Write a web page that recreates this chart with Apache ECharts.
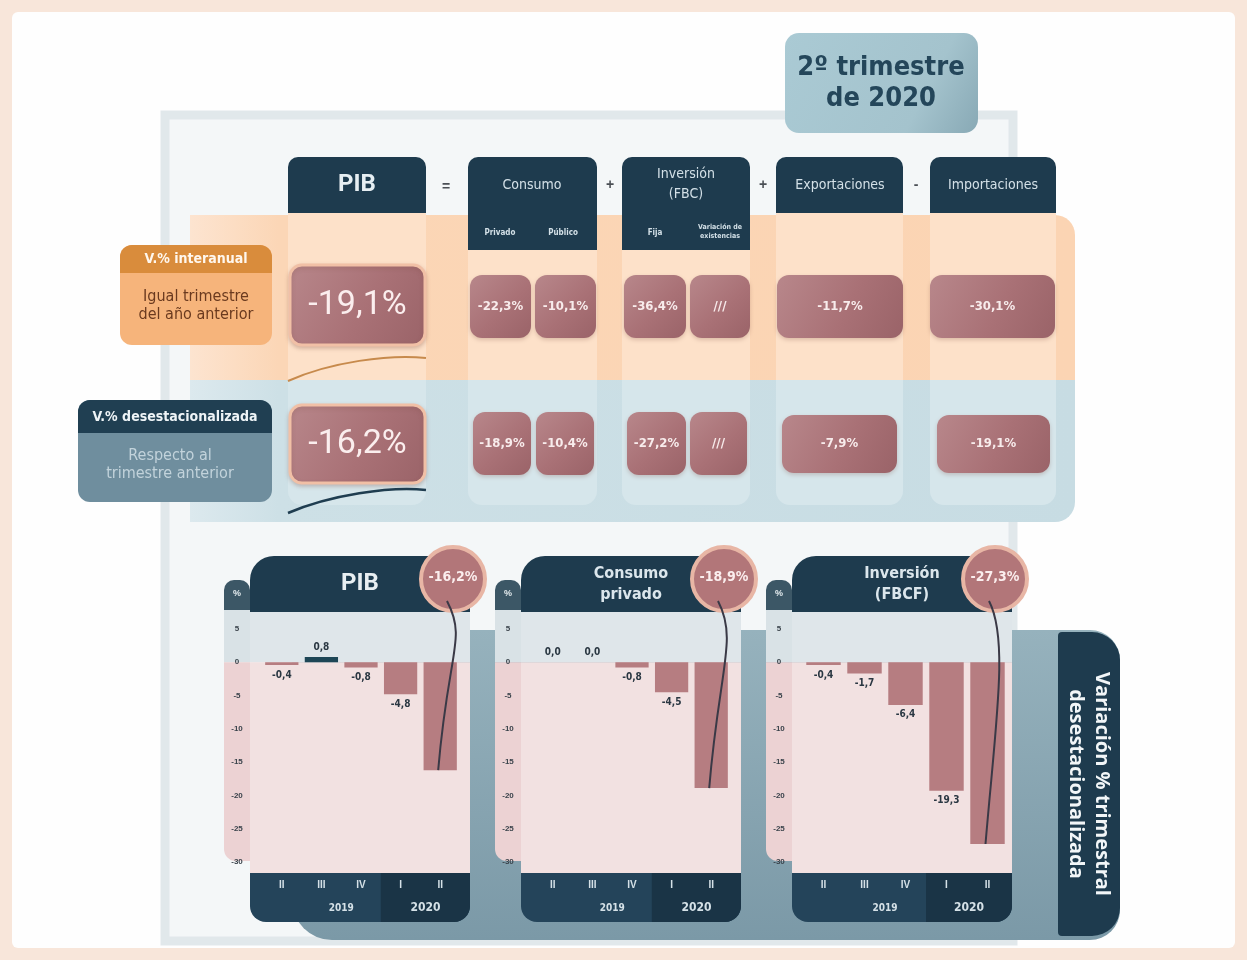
<!DOCTYPE html>
<html><head><meta charset="utf-8">
<script src="https://cdn.jsdelivr.net/npm/echarts@6.0.0/dist/echarts.min.js"></script>
<style>html,body{margin:0;padding:0;background:#f8e6da}#c{width:1247px;height:960px}</style>
</head><body><div id="c"></div>
<script>
// ---------- data ----------
const quarters = ['II', 'III', 'IV', 'I', 'II'];
const years = ['2019', '2020'];
const pibValues = [-0.4, 0.8, -0.8, -4.8, -16.2];
const consumoValues = [0.0, 0.0, -0.8, -4.5, -18.9];
const inversionValues = [-0.4, -1.7, -6.4, -19.3, -27.3];
const yMin = -30, yMax = 5, yInterval = 5;
const chartTitles = ['PIB', 'Consumo\nprivado', 'Inversión\n(FBCF)'];
const tableHeaders = ['PIB', 'Consumo', 'Inversión\n(FBC)', 'Exportaciones', 'Importaciones'];
const consumoSub = ['Privado', 'Público'];
const inversionSub = ['Fija', 'Variación de\nexistencias'];
const operators = ['=', '+', '+', '-'];
// order: PIB, Privado, Público, Fija, Var. existencias, Exportaciones, Importaciones
const interanual = [-19.1, -22.3, -10.1, -36.4, null, -11.7, -30.1];
const desestacionalizada = [-16.2, -18.9, -10.4, -27.2, null, -7.9, -19.1];
const rowLabels = [['V.% interanual', 'Igual trimestre\ndel año anterior'], ['V.% desestacionalizada', 'Respecto al\ntrimestre anterior']];
const periodTitle = '2º trimestre\nde 2020';
const sideTitle = 'Variación % trimestral\ndesestacionalizada';

// ---------- helpers ----------
const fmt1 = v => v.toFixed(1).replace('.', ',');
const fmtPct = v => v == null ? '///' : fmt1(v) + '%';
const COND = '"DejaVu Sans Condensed", "DejaVu Sans", sans-serif';
const NAVY = '#1e3b4e';
const seriesData = [pibValues, consumoValues, inversionValues];

const panels = [
  { x0: 250, ax: 224, left: 262, width: 198 },
  { x0: 521, ax: 495, left: 533, width: 198 },
  { x0: 792, ax: 766, left: 803, width: 205 }
];
const gridTop = 629, gridH = 233;

const chart = echarts.init(document.getElementById('c'));
const grids = [], xAxes = [], yAxes = [], series = [];
panels.forEach((p, i) => {
  grids.push({ left: p.left, top: gridTop, width: p.width, height: gridH, outerBoundsMode: 'none', containLabel: false });
  xAxes.push({
    type: 'category', gridIndex: i, data: quarters,
    axisLine: { show: false }, axisTick: { show: false }, splitLine: { show: false },
    axisLabel: { color: '#d5e1e7', fontSize: 10, fontWeight: 'bold', margin: 18, interval: 0 }
  });
  yAxes.push({
    type: 'value', gridIndex: i, min: yMin, max: yMax, interval: yInterval,
    axisLine: { show: false }, axisTick: { show: false }, splitLine: { show: false },
    axisLabel: { color: '#3a434b', fontSize: 8, fontWeight: 'bold', align: 'center', margin: p.left - p.ax - 13, showMinLabel: true, showMaxLabel: true }
  });
  series.push({
    type: 'bar', xAxisIndex: i, yAxisIndex: i, barWidth: '84%', z: 5,
    data: seriesData[i].map((v, k) => ({
      value: v,
      itemStyle: { color: v > 0 ? '#1e4656' : '#b67d81' },
      label: {
        show: k < seriesData[i].length - 1,
        position: v === 0 ? 'top' : 'outside',
        distance: 5,
        formatter: p2 => fmt1(p2.value),
        color: '#2a3742', fontSize: 10, fontWeight: 'bold', fontFamily: COND
      }
    }))
  });
});

chart.setOption({
  animation: false,
  backgroundColor: 'transparent',
  grid: grids, xAxis: xAxes, yAxis: yAxes, series: series
});

// ---------- decorations ----------
const G = [];
function rect(x, y, w, h, fill, r, z, extra) {
  G.push(Object.assign({ type: 'rect', z: z == null ? -5 : z, shape: { x, y, width: w, height: h, r: r || 0 }, style: { fill } }, extra || {}));
}
function text(x, y, str, st, z) {
  G.push({ type: 'text', z: z == null ? 3 : z, x, y,
    style: Object.assign({ text: str, align: 'center', verticalAlign: 'middle', fill: '#fff', font: 'bold 14px ' + COND }, st) });
}

// page
rect(12, 12, 1223, 936, '#fefefe', 6, -20);
// frame
G.push({ type: 'rect', z: -19, shape: { x: 165, y: 115, width: 848, height: 826 }, style: { fill: '#f4f7f8', stroke: '#e1e8eb', lineWidth: 9 } });

// period title
rect(785, 33, 193, 100, { type: 'linear', x: 0, y: 0, x2: 1, y2: 1, colorStops: [{ offset: 0, color: '#aacad4' }, { offset: 0.7, color: '#a4c3cd' }, { offset: 1, color: '#88a9b5' }] }, 14, -4);
text(881, 83, periodTitle, { fill: '#24465a', font: 'bold 27px ' + COND, lineHeight: 31 }, 4);

// bands
rect(190, 215, 885, 165, { type: 'linear', x: 0, y: 0, x2: 1, y2: 0, colorStops: [{ offset: 0, color: '#fde4d0' }, { offset: 0.1, color: '#fbd6b6' }, { offset: 1, color: '#fbd4b3' }] }, [0, 20, 0, 0], -15);
rect(190, 380, 885, 142, { type: 'linear', x: 0, y: 0, x2: 1, y2: 0, colorStops: [{ offset: 0, color: '#dce9ee' }, { offset: 0.1, color: '#cde0e6' }, { offset: 1, color: '#c7dce3' }] }, [0, 0, 20, 0], -15);

// columns & headers
const cols = [
  { x: 288, w: 138, h: 56 },
  { x: 468, w: 129, h: 93 },
  { x: 622, w: 128, h: 93 },
  { x: 776, w: 127, h: 56 },
  { x: 930, w: 126, h: 56 }
];
cols.forEach((c, i) => {
  rect(c.x, 213, c.w, 167, '#fde1c9', 0, -14);
  rect(c.x, 380, c.w, 125, '#d6e6eb', [0, 0, 14, 14], -14);
  rect(c.x, 157, c.w, c.h, NAVY, [10, 10, 0, 0], -4);
});
text(357, 185, tableHeaders[0], { fill: '#e6eef2', font: 'bold 24px Roboto, sans-serif' });
text(532, 185, tableHeaders[1], { fill: '#d3e0e7', font: '14px ' + COND });
text(686, 184, tableHeaders[2], { fill: '#d3e0e7', font: '14px ' + COND, lineHeight: 20 });
text(840, 185, tableHeaders[3], { fill: '#d3e0e7', font: '14px ' + COND });
text(993, 185, tableHeaders[4], { fill: '#d3e0e7', font: '14px ' + COND });
text(500, 233, consumoSub[0], { fill: '#d3e0e7', font: 'bold 8px ' + COND });
text(563, 233, consumoSub[1], { fill: '#d3e0e7', font: 'bold 8px ' + COND });
text(655, 233, inversionSub[0], { fill: '#d3e0e7', font: 'bold 8px ' + COND });
text(720, 232, inversionSub[1], { fill: '#d3e0e7', font: 'bold 7px ' + COND, lineHeight: 9 });
[[446, 187], [610, 185], [763, 185], [916, 185]].forEach((pt, i) => text(pt[0], pt[1], operators[i], { fill: '#4a4f55', font: 'bold 14px sans-serif' }));

// row labels
rect(120, 245, 152, 100, '#f6b47b', 12, -4);
rect(120, 245, 152, 28, '#d98c3c', [12, 12, 0, 0], -3);
text(196, 259, rowLabels[0][0], { font: 'bold 14px ' + COND, fill: '#fff7ee' });
text(196, 306, rowLabels[0][1], { font: '16px ' + COND, fill: '#6a3a1f', lineHeight: 18 });
rect(78, 400, 194, 102, '#6f8e9e', 12, -4);
rect(78, 400, 194, 33, '#203f52', [12, 12, 0, 0], -3);
text(175, 417, rowLabels[1][0], { font: 'bold 14px ' + COND, fill: '#eef4f7' });
text(170, 465, rowLabels[1][1], { font: '16px ' + COND, fill: '#c2d3db', lineHeight: 18 });

// value boxes
const boxFill = { type: 'linear', x: 0, y: 0, x2: 1, y2: 1, colorStops: [{ offset: 0, color: '#b8878b' }, { offset: 0.55, color: '#a97176' }, { offset: 1, color: '#9a6368' }] };
const row1Boxes = [[290, 265, 135, 80], [470, 275, 61, 63], [535, 275, 61, 63], [624, 275, 62, 63], [690, 275, 60, 63], [777, 275, 126, 63], [930, 275, 125, 63]];
const row2Boxes = [[290, 405, 135, 78], [473, 412, 58, 63], [536, 412, 58, 63], [627, 412, 59, 63], [690, 412, 57, 63], [782, 415, 115, 58], [937, 415, 113, 58]];
[[row1Boxes, interanual], [row2Boxes, desestacionalizada]].forEach(([boxes, vals]) => {
  boxes.forEach((b, i) => {
    const big = i === 0;
    G.push({ type: 'rect', z: -2, shape: { x: b[0], y: b[1], width: b[2], height: b[3], r: 12 },
      style: { fill: boxFill, stroke: big ? '#f1c0a6' : null, lineWidth: big ? 3 : 0, shadowColor: 'rgba(120,70,60,0.25)', shadowBlur: 4, shadowOffsetY: 2 } });
    text(b[0] + b[2] / 2, b[1] + b[3] / 2, fmtPct(vals[i]), big
      ? { font: '34px Roboto, sans-serif', fill: '#fbeeee' }
      : { font: 'bold 13px ' + COND, fill: '#f8ecec' });
  });
});
// curves under PIB column
G.push({ type: 'bezierCurve', z: 2, shape: { x1: 288, y1: 381, cpx1: 330, cpy1: 362, cpx2: 390, cpy2: 354, x2: 426, y2: 358 }, style: { stroke: '#c78a4c', lineWidth: 2, fill: null } });
G.push({ type: 'bezierCurve', z: 2, shape: { x1: 288, y1: 513, cpx1: 330, cpy1: 495, cpx2: 390, cpy2: 486, x2: 426, y2: 490 }, style: { stroke: '#1f3d50', lineWidth: 2.5, fill: null } });

// bottom slate background and side title
rect(292, 630, 828, 310, { type: 'linear', x: 0, y: 0, x2: 0, y2: 1, colorStops: [{ offset: 0, color: '#96b2bd' }, { offset: 1, color: '#7b99a7' }] }, [0, 30, 30, 40], -12);
rect(1058, 632, 62, 304, NAVY, [4, 28, 28, 4], -11);
G.push({ type: 'text', z: 3, x: 1089, y: 784, rotation: -Math.PI / 2,
  style: { text: sideTitle, align: 'center', verticalAlign: 'middle', fill: '#f2f6f8', font: 'bold 20px "Open Sans", sans-serif', lineHeight: 26 } });

// chart panels
panels.forEach((p, i) => {
  const vals = seriesData[i];
  const zeroY = chart.convertToPixel({ yAxisIndex: i }, 0);
  const catX = quarters.map((q, k) => chart.convertToPixel({ xAxisIndex: i }, k));
  const bandTop = 873, bandBottom = 922;
  // y strip
  rect(p.ax, 580, 26, 32, '#3c5766', [10, 10, 0, 0], -6);
  text(p.ax + 13, 594, '%', { font: 'bold 9px sans-serif', fill: '#e6edf0' });
  rect(p.ax, 610, 26, zeroY - 610, '#d9e2e6', 0, -6);
  rect(p.ax, zeroY, 26, bandTop - 12 - zeroY, '#ecd2d3', [0, 0, 0, 12], -6);
  // plot area
  rect(p.x0, 610, 220, zeroY - 610, '#dfe6ea', 0, -6);
  rect(p.x0, zeroY, 220, bandTop - zeroY, '#f2e1e1', 0, -6);
  // header
  rect(p.x0, 556, 220, 56, NAVY, [24, 0, 0, 0], -5);
  text(p.x0 + 110, 584, chartTitles[i], i === 0
    ? { font: 'bold 24px Roboto, sans-serif', fill: '#e8eff2' }
    : { font: 'bold 16px ' + COND, fill: '#dbe6ec', lineHeight: 21 });
  // x band
  const split = (catX[2] + catX[3]) / 2;
  rect(p.x0, bandTop, 220, bandBottom - bandTop, '#24445a', [0, 0, 16, 16], -5);
  rect(split, bandTop, p.x0 + 220 - split, bandBottom - bandTop, '#1a3446', [0, 0, 16, 0], -4);
  text((catX[1] + catX[2]) / 2, 908, years[0], { font: 'bold 10px ' + COND, fill: '#d5e1e7' });
  text((split + p.x0 + 220) / 2, 908, years[1], { font: 'bold 12px ' + COND, fill: '#d5e1e7' });
  // circle with last value and connector to the bar end
  const last = vals.length - 1;
  const end = chart.convertToPixel({ seriesIndex: i }, [last, vals[last]]);
  const cx = p.x0 + 203, cy = 579;
  G.push({ type: 'circle', z: 18, shape: { cx, cy, r: 32 }, style: { fill: '#b27679', stroke: '#e8b6a5', lineWidth: 4 } });
  text(cx, cy - 2, fmtPct(vals[last]), { font: 'bold 14px ' + COND, fill: '#fbeeee' }, 19);
  G.push({ type: 'bezierCurve', z: 20, shape: { x1: cx - 6, y1: cy + 22, cpx1: cx + 14, cpy1: cy + 60, cpx2: end[0] + 8, cpy2: end[1] - 120, x2: end[0] - 2, y2: end[1] }, style: { stroke: '#3a3946', lineWidth: 2, fill: null } });
});

chart.setOption({ graphic: { elements: G } });
</script></body></html>
